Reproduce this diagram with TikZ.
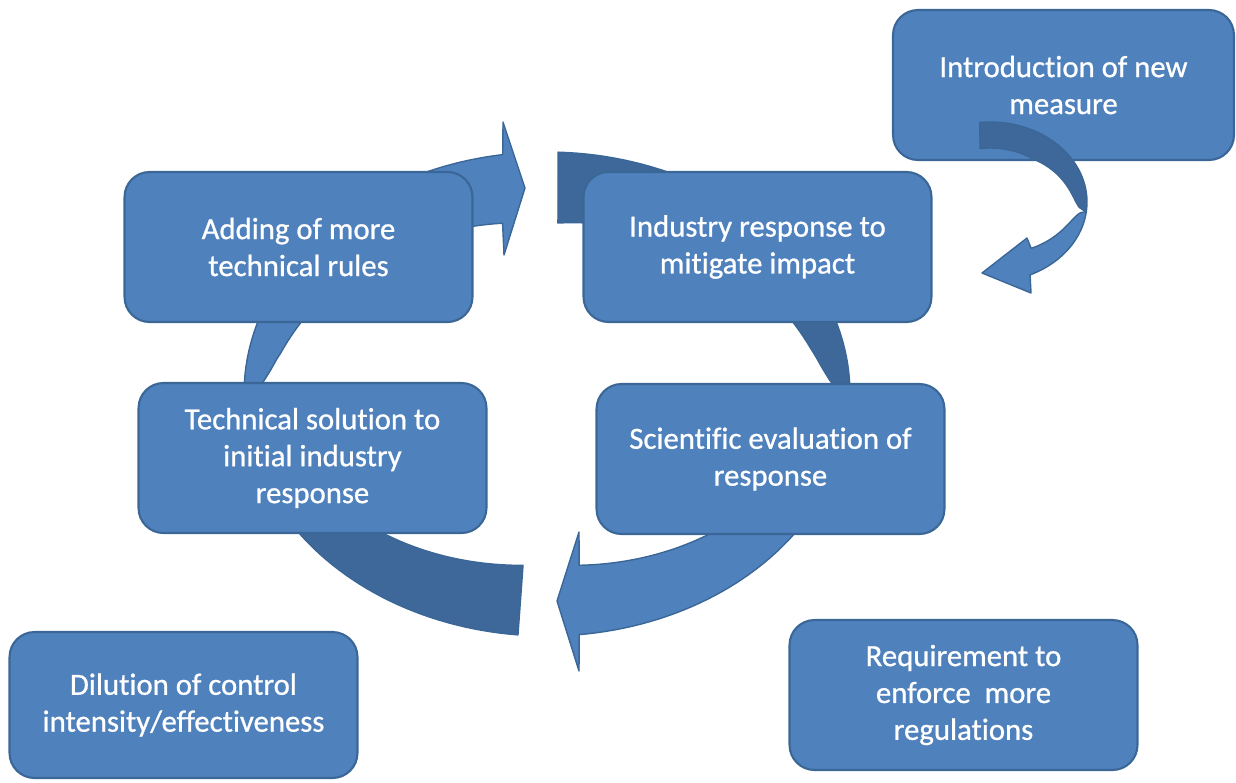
\documentclass[tikz,border=0pt]{standalone}
\usepackage{fontspec}
\setmainfont{Carlito}[Ligatures=NoCommon, FakeBold=0.8]
\usepackage{xcolor}
\definecolor{box-blue}{HTML}{4F81BD}
\definecolor{box-edge}{HTML}{3B6797}
\definecolor{back-blue}{HTML}{3E6899}
\usepackage{tikz}
\tikzset{box/.style = {draw=box-edge, line width=1.2pt, fill=box-blue, rounded corners=0.5cm, align=center, text=white, minimum width=6.96cm, minimum height=3cm}}
\tikzset{front/.style = {draw=box-edge, line width=0.8pt, fill=box-blue, line join=round}}
\tikzset{back/.style = {draw=box-edge, line width=0.8pt, fill=back-blue, line join=round}}
% outer and inner edge of the big ribbon, and of the small one
\tikzset{declare function={
  wid(\d) = 71*(max(\d,0.01)/88)^0.4;
  ox(\t) = 547+303*cos(\t);
  oy(\t) = 394-242*sin(\t);
  ix(\t,\d) = 547+(303-wid(\d))*cos(\t);
  iy(\t,\d) = 394-(242-wid(\d))*sin(\t);
  swid(\d) = 26*min(1,(max(\d,0.01)/60)^0.4);
  sox(\t) = 990+97*cos(\t);
  soy(\t) = 202-80*sin(\t);
  six(\t,\d) = 990+(97-swid(\d))*cos(\t);
  siy(\t,\d) = 202-(80-swid(\d))*sin(\t);
}}

\begin{document}
\begin{tikzpicture}[x=0.02cm, y=-0.02cm,
  font=\fontsize{17.5}{21}\selectfont
]
\useasboundingbox (0,0) rectangle (1236,782);

% ribbon from the bottom round the left to the top
\filldraw[back] plot[domain=264.5:180, samples=50] ({ox(\x)},{oy(\x)})
  -- plot[domain=180:264.1, samples=50] ({ix(\x,\x-180)},{iy(\x,\x-180)}) -- cycle;
\filldraw[front] plot[domain=180:98.4, samples=50] ({ox(\x)},{oy(\x)})
  -- (503,122) -- (525,188) -- (504,255)
  -- plot[domain=100.9:180, samples=50] ({ix(\x,180-\x)},{iy(\x,180-\x)}) -- cycle;

% ribbon from the top round the right to the bottom
\filldraw[back] plot[domain=87.9:0, samples=50] ({ox(\x)},{oy(\x)})
  -- plot[domain=0:87.3, samples=50] ({ix(\x,\x)},{iy(\x,\x)}) -- cycle;
\filldraw[front] plot[domain=0:-83.9, samples=50] ({ox(\x)},{oy(\x)})
  -- (579,671) -- (557,601) -- (579,532)
  -- plot[domain=-82.1:0, samples=50] ({ix(\x,-\x)},{iy(\x,-\x)}) -- cycle;

\node[box] (industry) at (757.5,247) {Industry response to\\mitigate impact};
\node[box] (adding) at (298.5,247) {Adding of more\\technical rules};
\node[box] (technical) at (312.5,458) {Technical solution to\\initial industry\\response};
\node[box] (scientific) at (770.5,459) {Scientific evaluation of\\response};
\node[box, minimum width=6.82cm] (intro) at (1063.5,85) {Introduction of new\\measure};

% small ribbon out of the new measure
\filldraw[back] plot[domain=96:-7, samples=40] ({sox(\x)},{soy(\x)})
  -- plot[domain=-7:98.1, samples=40] ({six(\x,\x+7)},{siy(\x,\x+7)}) -- cycle;
\filldraw[front] plot[domain=-7:-65.6, samples=40] ({sox(\x)},{soy(\x)})
  -- (1031,293) -- (982,273) -- (1027,238)
  -- plot[domain=-55.7:-7, samples=40] ({six(\x,-7-\x)},{siy(\x,-7-\x)}) -- cycle;

\node[box, minimum height=2.92cm] (dilution) at (183.5,705) {Dilution of control\\intensity/effectiveness};
\node[box] (requirement) at (963.5,695) {Requirement to\\enforce\ \ more\\regulations};

\end{tikzpicture}
\end{document}
